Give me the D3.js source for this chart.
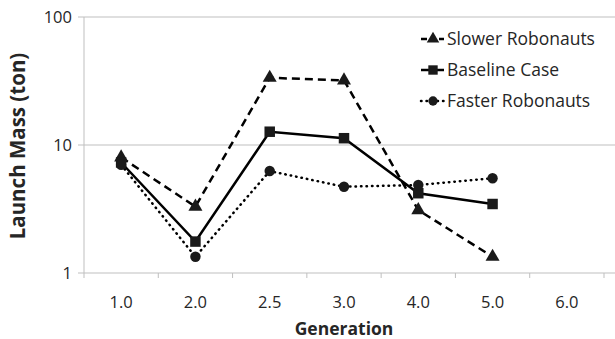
<!DOCTYPE html>
<head>
  <meta charset="utf-8">
  <script src="https://d3js.org/d3.v7.min.js"></script>
  <style>
    body { margin:0; background:#fff; }
    svg { display:block; }
    text { font-family: "Open Sans", sans-serif; fill:#262626; }
  </style>
</head>
<body>
<div id="chart"></div>
<script>
  // data
  var generations = ["1.0", "2.0", "2.5", "3.0", "4.0", "5.0", "6.0"];
  var slower   = [8.0, 3.3, 33.5, 32.0, 3.1, 1.34];
  var baseline = [7.3, 1.76, 12.7, 11.3, 4.2, 3.46];
  var faster   = [7.0, 1.34, 6.26, 4.72, 4.87, 5.5];
  var yTicks = [1, 10, 100];
  var seriesNames = ["Slower Robonauts", "Baseline Case", "Faster Robonauts"];

  var width = 615, height = 339;
  var plotLeft = 84, plotRight = 604, plotTop = 17, plotBottom = 273;

  var svg = d3.select("#chart").append("svg")
      .attr("width", width).attr("height", height);

  var x = d3.scaleBand().domain(generations).range([plotLeft, plotRight]);
  var y = d3.scaleLog().domain([1, 100]).range([plotBottom, plotTop]);

  // grid lines
  svg.append("g").selectAll("line")
    .data(yTicks)
    .enter().append("line")
      .attr("x1", plotLeft - 6).attr("x2", width)
      .attr("y1", function(d) { return y(d); })
      .attr("y2", function(d) { return y(d); })
      .style("stroke", "#bfbfbf").style("stroke-width", 1);

  // y axis line
  svg.append("line")
    .attr("x1", plotLeft).attr("x2", plotLeft)
    .attr("y1", plotTop).attr("y2", plotBottom)
    .style("stroke", "#bfbfbf");

  // x tick marks (between categories)
  svg.append("g").selectAll("line")
    .data(generations.concat(["end"]))
    .enter().append("line")
      .attr("x1", function(d, i) { return plotLeft + i * x.bandwidth(); })
      .attr("x2", function(d, i) { return plotLeft + i * x.bandwidth(); })
      .attr("y1", plotBottom).attr("y2", plotBottom + 5)
      .style("stroke", "#bfbfbf");

  // y tick labels
  svg.append("g").selectAll("text")
    .data(yTicks)
    .enter().append("text")
      .attr("x", plotLeft - 12)
      .attr("y", function(d) { return y(d); })
      .attr("dy", "0.35em")
      .attr("text-anchor", "end")
      .style("font-size", "16.5px")
      .text(function(d) { return d; });

  // x tick labels
  svg.append("g").selectAll("text")
    .data(generations)
    .enter().append("text")
      .attr("x", function(d) { return x(d) + x.bandwidth() / 2; })
      .attr("y", 302)
      .attr("dy", "0.35em")
      .attr("text-anchor", "middle")
      .style("font-size", "16.5px")
      .text(function(d) { return d; });

  // axis titles
  svg.append("text")
    .attr("x", 344).attr("y", 329)
    .attr("dy", "0.35em")
    .attr("text-anchor", "middle")
    .style("font-size", "17.5px").style("font-weight", "bold")
    .text("Generation");

  svg.append("text")
    .attr("transform", "translate(18,146) rotate(-90)")
    .attr("dy", "0.35em")
    .attr("text-anchor", "middle")
    .style("font-size", "20.5px").style("font-weight", "bold")
    .text("Launch Mass (ton)");

  var series = [
    { name: seriesNames[0], values: slower,   dash: "8,5",   cap: "butt",  symbol: d3.symbolTriangle, size: 85 },
    { name: seriesNames[1], values: baseline, dash: null,    cap: "butt",  symbol: d3.symbolSquare,   size: 110 },
    { name: seriesNames[2], values: faster,   dash: "0.5,5", cap: "round", symbol: d3.symbolCircle,   size: 85 }
  ];

  var line = d3.line()
    .x(function(d, i) { return x(generations[i]) + x.bandwidth() / 2; })
    .y(function(d) { return y(d); });

  series.forEach(function(s) {
    svg.append("path")
      .attr("d", line(s.values))
      .style("fill", "none")
      .style("stroke", "#000")
      .style("stroke-width", 2.5)
      .style("stroke-linecap", s.cap)
      .style("stroke-dasharray", s.dash);

    svg.append("g").selectAll("path")
      .data(s.values)
      .enter().append("path")
        .attr("d", d3.symbol().type(s.symbol).size(s.size))
        .attr("transform", function(d, i) {
          return "translate(" + (x(generations[i]) + x.bandwidth() / 2) + "," + y(d) + ")";
        })
        .style("fill", "#1a1a1a");
  });

  // legend
  var legend = svg.append("g").selectAll("g")
    .data(series)
    .enter().append("g")
      .attr("transform", function(d, i) { return "translate(420," + (39 + i * 31) + ")"; });

  legend.append("rect")
    .attr("x", 0).attr("y", -9).attr("width", 190).attr("height", 18)
    .style("fill", "#fff");

  legend.append("line")
    .attr("x1", 1).attr("x2", 24).attr("y1", 0).attr("y2", 0)
    .style("stroke", "#000").style("stroke-width", 2.5)
    .style("stroke-linecap", function(d) { return d.cap; })
    .style("stroke-dasharray", function(d) { return d.dash ? (d.dash == "8,5" ? "6,3" : "0.5,5") : null; });

  legend.append("path")
    .attr("d", function(d) { return d3.symbol().type(d.symbol).size(d.size * 0.8)(); })
    .attr("transform", "translate(13,0)")
    .style("fill", "#1a1a1a");

  legend.append("text")
    .attr("x", 27).attr("y", 0).attr("dy", "0.35em")
    .style("font-size", "17.5px")
    .text(function(d) { return d.name; });
</script>
</body>
